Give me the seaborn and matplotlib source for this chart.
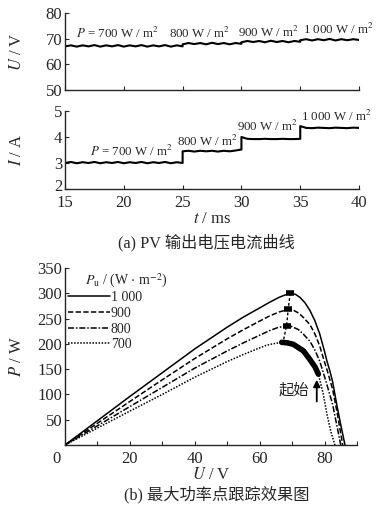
import numpy as np
import pandas as pd
import seaborn as sns
import matplotlib
matplotlib.use('Agg')
import matplotlib.pyplot as plt
from matplotlib.transforms import ScaledTranslation

# (a) 电压/电流 阶跃数据 (每段 0.5 ms 一个点)
seg_start = [15, 25, 30, 35]
seg_end = [25, 30, 35, 40]

u_700 = [67.0, 67.4, 66.9, 67.4, 67.0, 67.5, 66.9, 67.4, 67.0, 67.5, 66.9,
         67.4, 67.0, 67.5, 66.9, 67.4, 67.0, 67.5, 66.9, 67.4, 67.0]
u_800 = [67.8, 68.3, 67.9, 68.3, 67.8, 68.4, 67.9, 68.3, 67.8, 68.3, 68.0]
u_900 = [68.6, 69.1, 68.7, 69.1, 68.6, 69.2, 68.7, 69.1, 68.6, 69.1, 68.8]
u_1000 = [69.4, 69.8, 69.3, 69.8, 69.4, 69.9, 69.3, 69.8, 69.4, 69.8, 69.5]

i_700 = [3.00, 3.04, 2.99, 3.03, 3.00, 3.04, 2.99, 3.03, 3.00, 3.04, 2.99,
         3.03, 3.00, 3.04, 2.99, 3.03, 3.00, 3.04, 2.99, 3.03, 3.00]
i_800 = [3.45, 3.47, 3.44, 3.47, 3.45, 3.47, 3.44, 3.47, 3.45, 3.48, 3.52]
i_900 = [4.00, 3.93, 3.92, 3.92, 3.93, 3.92, 3.92, 3.93, 3.92, 3.92, 3.93]
i_1000 = [4.42, 4.35, 4.34, 4.36, 4.35, 4.34, 4.36, 4.35, 4.34, 4.36, 4.35]

# (b) P-U 曲线
pu_1000_u = [0, 10, 20, 30, 40, 50, 55, 60, 63, 66, 68, 69.4, 71, 72.4, 74, 75.5,
             77, 78.5, 80, 80.7, 81.7, 82.5, 83.7, 85, 86.3]
pu_1000_p = [0, 48, 96, 143, 190, 233, 253, 271, 282, 292, 297, 300, 298, 292, 281, 266,
             246, 220, 185, 167, 145, 125, 82, 40, 0]
pu_900_u = [0, 10, 20, 30, 40, 50, 55, 60, 63, 66, 68.8, 70.5, 72, 73.5, 75.5, 77,
            78.5, 80, 80.7, 82.5, 84, 85.6]
pu_900_p = [0, 43, 86, 129, 171, 210, 228, 245, 255, 263, 268, 266, 261, 252, 238, 220,
            196, 164, 150, 110, 60, 0]
pu_800_u = [0, 10, 20, 30, 40, 50, 55, 60, 63, 65.5, 68.3, 70, 72, 73.5, 75.5, 77,
            78.5, 80, 80.7, 82.5, 85.0]
pu_800_p = [0, 38, 76, 114, 152, 186, 202, 217, 226, 232, 236, 234, 228, 219, 205, 188,
            166, 135, 120, 80, 0]
pu_700_u = [0, 10, 20, 30, 40, 50, 55, 60, 62, 64, 66.8, 68.5, 70.4, 73.5, 75.5, 77.1,
            78.1, 79.6, 80.7, 82, 83.2]
pu_700_p = [0, 33.5, 67, 100, 134, 165, 179, 192, 197, 200, 203, 202, 199, 186, 169, 154,
            140, 101, 62, 25, 0]

# 跟踪轨迹 (粗线) 和 最大功率点
track_u = [66.8, 68.5, 70.4, 73.5, 75.5, 77.1, 78.1]
track_p = [203, 202, 199, 186, 169, 154, 140]
mpp_u = [69.4, 68.8, 68.3, 67.2]
mpp_p = [300, 268, 236, 203]

sns.set_theme(style='ticks')
plt.rcParams['font.family'] = ['Liberation Serif', 'Noto Sans CJK SC']
plt.rcParams['mathtext.fontset'] = 'stix'
plt.rcParams['axes.linewidth'] = 1.0

fig = plt.figure(figsize=(3.77, 5.13), dpi=100)
ax1 = fig.add_axes([0.1724, 0.8246, 0.780, 0.150])
ax2 = fig.add_axes([0.1724, 0.6316, 0.780, 0.152])
ax3 = fig.add_axes([0.1724, 0.1326, 0.7745, 0.345])


def seg_frame(vals_list):
    rows = []
    for k, vals in enumerate(vals_list):
        tt = np.arange(seg_start[k], seg_end[k] + 0.01, 0.5)
        for t, v in zip(tt, vals):
            rows.append((t, v))
    return pd.DataFrame(rows, columns=['t', 'v'])


du = seg_frame([u_700, u_800, u_900, u_1000])
di = seg_frame([i_700, i_800, i_900, i_1000])
sns.lineplot(data=du, x='t', y='v', ax=ax1, color='black', lw=1.5, estimator=None, sort=False)
sns.lineplot(data=di, x='t', y='v', ax=ax2, color='black', lw=1.5, estimator=None, sort=False)

for ax in (ax1, ax2, ax3):
    sns.despine(ax=ax)
    ax.tick_params(direction='in', length=3, width=0.8, labelsize=12, pad=2)
    ax.set_xlabel('')
    ax.set_ylabel('')

ax1.set_xlim(15, 40)
ax1.set_ylim(50, 80)
ax1.set_yticks([50, 60, 70, 80])
ax1.set_xticks([15, 20, 25, 30, 35, 40])
ax1.tick_params(axis='x', labelbottom=False)
ax1.set_ylabel(r'$U$ / V', fontsize=12)
ax1.yaxis.set_label_coords(-0.136, 0.5)

ax2.set_xlim(15, 40)
ax2.set_ylim(2, 5)
ax2.set_yticks([2, 3, 4, 5])
ax2.set_xticks([15, 20, 25, 30, 35, 40])
ax2.tick_params(axis='x', pad=4)
ax2.set_ylabel(r'$I$ / A', fontsize=12)
ax2.yaxis.set_label_coords(-0.136, 0.5)
ax2.set_xlabel(r'$t$ / ms', fontsize=12, labelpad=0)
# "2" 稍向上, 避免与 "15" 重叠
low = ax2.get_yticklabels()[0]
low.set_transform(low.get_transform() + ScaledTranslation(0, 0.035, fig.dpi_scale_trans))

# 注释
fs_note = 9.3
ax1.text(15.9, 72.2, r'$P$ = 700 W / m$^2$', fontsize=fs_note, va='center')
ax1.text(23.8, 72.2, r'800 W / m$^2$', fontsize=fs_note, va='center')
ax1.text(29.7, 72.4, r'900 W / m$^2$', fontsize=fs_note, va='center')
ax1.text(35.2, 73.6, r'1 000 W / m$^2$', fontsize=fs_note, va='center', clip_on=False)
ax2.text(17.1, 3.43, r'$P$ = 700 W / m$^2$', fontsize=fs_note, va='center')
ax2.text(24.5, 3.82, r'800 W / m$^2$', fontsize=fs_note, va='center')
ax2.text(29.6, 4.40, r'900 W / m$^2$', fontsize=fs_note, va='center')
ax2.text(35.1, 4.78, r'1 000 W / m$^2$', fontsize=fs_note, va='center', clip_on=False)

# (b)
curves = [(pu_1000_u, pu_1000_p, '-', '1 000'),
          (pu_900_u, pu_900_p, (0, (3.5, 1.5)), '900'),
          (pu_800_u, pu_800_p, (0, (4, 1.2, 1, 1.2)), '800'),
          (pu_700_u, pu_700_p, (0, (1, 1)), '700')]
for uu, pp, ls, lab in curves:
    sns.lineplot(x=uu, y=pp, ax=ax3, color='black', lw=1.1, linestyle=ls,
                 estimator=None, sort=False, label=lab)

sns.lineplot(x=track_u, y=track_p, ax=ax3, color='black', lw=4.0,
             estimator=None, sort=False, legend=False)
sns.lineplot(x=mpp_u, y=mpp_p, ax=ax3, color='black', lw=1.0, linestyle=(0, (2, 1.5)),
             estimator=None, sort=False, legend=False)
ax3.plot(mpp_u[:3], mpp_p[:3], ls='none', marker='_', ms=6, mew=4, color='black')

ax3.annotate('', xy=(77.6, 129), xytext=(77.6, 86),
             arrowprops=dict(arrowstyle='-|>', color='black', lw=1.3,
                             mutation_scale=10, shrinkA=0, shrinkB=0))
ax3.text(75.2, 108, '起始', fontsize=11, ha='right', va='center')

ax3.set_xlim(0, 90)
ax3.set_ylim(0, 350)
ax3.set_xticks([0, 20, 40, 60, 80])
ax3.set_xticks([10, 30, 50, 70, 90], minor=True)
ax3.tick_params(axis='x', which='minor', direction='in', length=3, width=0.8)
ax3.tick_params(axis='x', pad=4)
ax3.set_yticks([50, 100, 150, 200, 250, 300, 350])
ax3.set_ylabel(r'$P$ / W', fontsize=12)
ax3.yaxis.set_label_coords(-0.136, 0.5)
ax3.set_xlabel(r'$U$ / V', fontsize=12, labelpad=0)
# 原点 "0" 稍向左
first = ax3.get_xticklabels()[0]
first.set_transform(first.get_transform() + ScaledTranslation(-0.08, 0, fig.dpi_scale_trans))

leg = ax3.legend(loc='upper left', bbox_to_anchor=(0.01, 0.87), frameon=False,
                 fontsize=10, handlelength=3.0, handletextpad=0.1, labelspacing=0.2,
                 borderpad=0, borderaxespad=0)
ax3.text(6.2, 325, r'$P_\mathrm{u}$ / (W $\cdot$ m$^{-2}$)', fontsize=10, va='center')

fig.text(0.547, 1 - 243 / 513, '(a) PV 输出电压电流曲线', fontsize=11.7, ha='center', va='center')
fig.text(0.575, 1 - 495 / 513, '(b) 最大功率点跟踪效果图', fontsize=11.7, ha='center', va='center')

fig.savefig('out.png', dpi=100)
